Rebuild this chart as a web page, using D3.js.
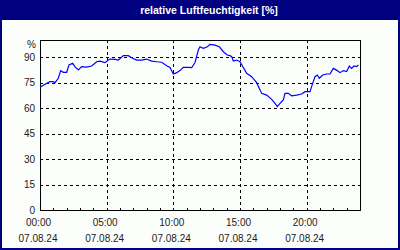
<!DOCTYPE html>
<html>
<head>
<meta charset="utf-8">
<title>relative Luftfeuchtigkeit</title>
<script src="https://d3js.org/d3.v7.min.js"></script>
<style>
  body { margin: 0; background: #fff; }
  svg { display: block; font-family: "Liberation Sans", Arial, sans-serif; }
  .lbl { font-size: 10px; fill: #1a1a1a; }
  .title { font-size: 10.5px; font-weight: bold; fill: #fff; }
  .grid line { stroke: #000; stroke-dasharray: 3,3; shape-rendering: crispEdges; }
</style>
</head>
<body>
<div id="chart"></div>
<script>
// measurement times (hours since 00:00) and relative humidity in %
const hours = [0, 0.375, 0.75, 1.0, 1.125, 1.375, 1.55, 1.75, 2.0, 2.175, 2.45, 2.65, 2.875,
  3.125, 3.5, 3.875, 4.25, 4.5, 4.875, 5.125, 5.25, 5.625, 5.875, 6.25, 6.625, 6.875, 7.25,
  7.625, 8.0, 8.375, 8.75, 9.125, 9.5, 9.75, 10.0, 10.25, 10.5, 10.75, 11.125, 11.375, 11.625,
  11.875, 12.0, 12.25, 12.55, 12.75, 13.125, 13.45, 13.75, 14.05, 14.25, 14.375, 14.5, 14.75,
  15.0, 15.5, 15.875, 16.25, 16.625, 17.0, 17.375, 17.625, 17.8, 18.0, 18.25, 18.375, 18.625,
  18.875, 19.25, 19.625, 19.875, 20.25, 20.45, 20.625, 20.8, 20.95, 21.2, 21.5, 21.75, 22.0,
  22.3, 22.5, 22.75, 23.0, 23.2, 23.375, 23.55, 23.75, 23.875];
const humidity = [72.2, 74, 75.5, 75.5, 74.9, 77.5, 82, 81, 81, 85.3, 86.3, 84, 82.4,
  84.3, 84, 84.7, 87.2, 87.6, 86.7, 88.2, 88.8, 88.6, 88.2, 90.8, 90.8, 89.6, 88.2,
  88.2, 88.8, 87.6, 87.2, 86.9, 84.9, 83.9, 80, 80.8, 82, 83.9, 83.9, 83.7, 86.7,
  94.1, 96, 95.1, 96, 97.4, 97, 96, 93.1, 91.2, 90.8, 90.2, 87.6, 88.2,
  87.2, 80.4, 78.4, 74.9, 68.6, 67.6, 65.1, 62.7, 60.8, 62.7, 64.7, 68.6, 68.6,
  67.2, 67.6, 68.2, 69.6, 69.6, 74.5, 78.4, 79.4, 77.5, 79.4, 80, 80, 83.3,
  82, 80.8, 82, 81.4, 84.7, 83.3, 84.7, 84.3, 85.3];

const yTicks = [0, 15, 30, 45, 60, 75, 90];
const xTicks = [0, 5, 10, 15, 20];
const xTimeLabels = ["00:00", "05:00", "10:00", "15:00", "20:00"];
const dateLabel = "07.08.24";
const minorTicks = d3.range(0, 25);

const W = 400, H = 250;
const plot = {left: 40, right: 360, top: 40, bottom: 210};

const svg = d3.select("#chart").append("svg")
    .attr("width", W)
    .attr("height", H);

// background and frame
svg.append("rect").attr("width", W).attr("height", H).attr("fill", "#fcfefc");
svg.append("rect").attr("width", W).attr("height", 20).attr("fill", "#000080");
svg.append("rect").attr("x", 0).attr("y", 0).attr("width", 2).attr("height", H).attr("fill", "#000080");
svg.append("rect").attr("x", W - 2).attr("y", 0).attr("width", 2).attr("height", H).attr("fill", "#000080");
svg.append("rect").attr("x", 0).attr("y", H - 2).attr("width", W).attr("height", 2).attr("fill", "#000080");

svg.append("text")
    .attr("class", "title")
    .attr("x", 209)
    .attr("y", 14)
    .attr("text-anchor", "middle")
    .text("relative Luftfeuchtigkeit [%]");

const x = d3.scaleLinear().domain([0, 24]).range([plot.left, plot.right]);
const y = d3.scaleLinear().domain([0, 100]).range([plot.bottom, plot.top]);

// dashed grid
const grid = svg.append("g").attr("class", "grid");
grid.selectAll(".hg")
    .data(yTicks.filter(d => d > 0))
    .enter().append("line")
        .attr("x1", plot.left).attr("x2", plot.right)
        .attr("y1", d => Math.round(y(d)) + 0.5)
        .attr("y2", d => Math.round(y(d)) + 0.5);
grid.selectAll(".vg")
    .data(xTicks.filter(d => d > 0))
    .enter().append("line")
        .attr("y1", plot.top).attr("y2", plot.bottom)
        .attr("x1", d => Math.round(x(d)) + 0.5)
        .attr("x2", d => Math.round(x(d)) + 0.5);

// hourly ticks pointing up into the plot
svg.append("g")
    .attr("transform", `translate(0,${plot.bottom + 0.5})`)
    .call(d3.axisBottom(x).tickValues(minorTicks).tickSize(-3).tickFormat(""))
    .call(g => g.select(".domain").remove())
    .selectAll("line").attr("shape-rendering", "crispEdges");

// plot frame
svg.append("rect")
    .attr("x", plot.left + 0.5).attr("y", plot.top + 0.5)
    .attr("width", plot.right - plot.left).attr("height", plot.bottom - plot.top)
    .attr("fill", "none").attr("stroke", "#000")
    .attr("shape-rendering", "crispEdges");

// y labels
svg.selectAll(".ylbl")
    .data(yTicks)
    .enter().append("text")
        .attr("class", "lbl")
        .attr("x", 35)
        .attr("y", d => y(d) + 3.5)
        .attr("text-anchor", "end")
        .text(d => d);
svg.append("text")
    .attr("class", "lbl")
    .attr("x", 36)
    .attr("y", 47.5)
    .attr("text-anchor", "end")
    .text("%");

// x labels: time and date
svg.selectAll(".xlbl")
    .data(xTicks)
    .enter().append("text")
        .attr("class", "lbl")
        .attr("x", d => x(d) - 1.5)
        .attr("y", 226)
        .attr("text-anchor", "middle")
        .text((d, i) => xTimeLabels[i]);
svg.selectAll(".dlbl")
    .data(xTicks)
    .enter().append("text")
        .attr("class", "lbl")
        .attr("x", d => x(d) - 2)
        .attr("y", 242)
        .attr("text-anchor", "middle")
        .text(dateLabel);

// humidity line
const line = d3.line()
    .x((d, i) => x(hours[i]))
    .y(d => y(d));

svg.append("path")
    .datum(humidity)
    .attr("d", line)
    .attr("fill", "none")
    .attr("stroke", "#0000ff")
    .attr("stroke-width", 1.2);
</script>
</body>
</html>
